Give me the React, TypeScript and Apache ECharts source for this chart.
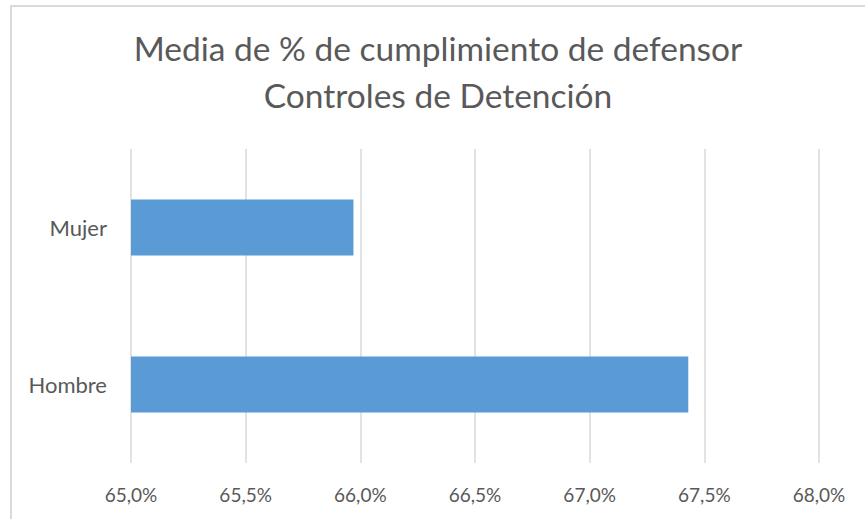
import React, { useEffect, useRef } from "react";
import * as echarts from "echarts";

const categories = ["Hombre", "Mujer"];
const values = [67.43, 65.97];
const xTicks = { min: 65, max: 68, interval: 0.5 };
const titleLines = ["Media de % de cumplimiento de defensor", "Controles de Detención"];

const FONT = "Lato, 'Open Sans', sans-serif";
const TEXT = "#595959";

export default function App() {
  const ref = useRef<HTMLDivElement>(null);
  useEffect(() => {
    if (!ref.current) return;
    const chart = echarts.init(ref.current, null, { renderer: "svg" });
    chart.setOption({
      animation: false,
      backgroundColor: "#ffffff",
      graphic: [
        {
          type: "rect",
          shape: { x: 11, y: 6, width: 900, height: 600 },
          style: { fill: "none", stroke: "#d9d9d9", lineWidth: 2 },
          silent: true,
          z: -1,
        },
        {
          type: "text",
          x: 438,
          y: 48,
          style: {
            text: titleLines[0],
            fill: TEXT,
            font: `33.5px ${FONT}`,
            textAlign: "center",
            textVerticalAlign: "middle",
          },
        },
        {
          type: "text",
          x: 438,
          y: 95,
          style: {
            text: titleLines[1],
            fill: TEXT,
            font: `33.5px ${FONT}`,
            textAlign: "center",
            textVerticalAlign: "middle",
          },
        },
      ],
      grid: { left: 131, right: 46, top: 149, bottom: 56, containLabel: false },
      xAxis: {
        type: "value",
        min: xTicks.min,
        max: xTicks.max,
        interval: xTicks.interval,
        axisLine: { show: false },
        axisTick: { show: false },
        splitLine: { show: true, lineStyle: { color: "#d9d9d9", width: 1.5 } },
        axisLabel: {
          color: TEXT,
          fontSize: 19,
          fontFamily: FONT,
          margin: 22,
          formatter: (v: number) => v.toFixed(1).replace(".", ",") + "%",
        },
      },
      yAxis: {
        type: "category",
        data: categories,
        axisLine: { show: false },
        axisTick: { show: false },
        axisLabel: { color: TEXT, fontSize: 22, fontFamily: FONT, margin: 24 },
      },
      series: [
        {
          type: "bar",
          data: values,
          barWidth: 56,
          itemStyle: { color: "#5b9bd5" },
        },
      ],
    });
    return () => chart.dispose();
  }, []);
  return (
    <div
      ref={ref}
      style={{ position: "absolute", left: 0, top: 0, width: 865, height: 519 }}
    />
  );
}
